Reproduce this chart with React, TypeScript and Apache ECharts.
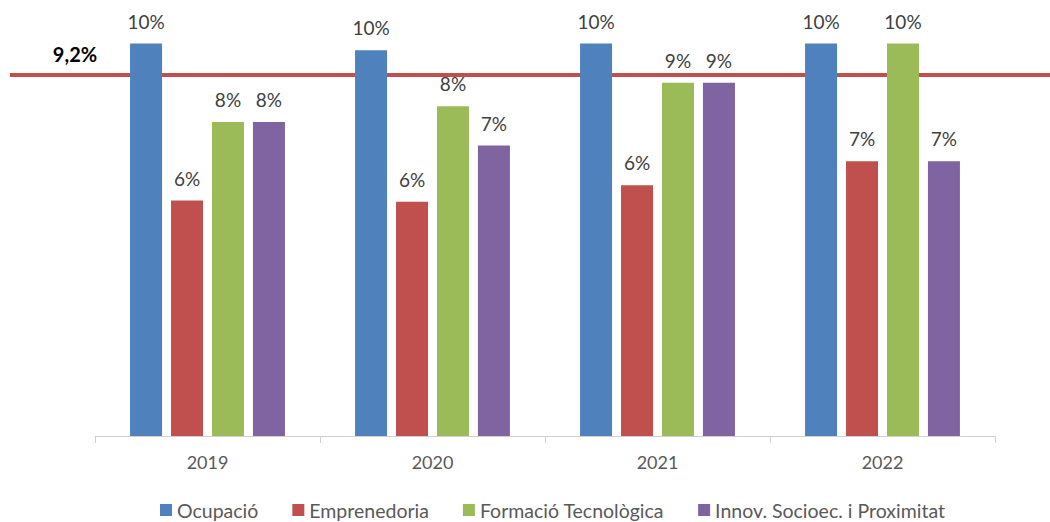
import React, { useEffect, useRef } from "react";
import * as echarts from "echarts";

const categories = ["2019", "2020", "2021", "2022"];
const seriesNames = ["Ocupació", "Emprenedoria", "Formació Tecnològica", "Innov. Socioec. i Proximitat"];
const ocupacio = [10.0, 9.83, 10.0, 10.0];
const emprenedoria = [6.0, 5.97, 6.39, 7.0];
const formacio = [8.0, 8.4, 9.0, 10.0];
const innovacio = [8.0, 7.4, 9.0, 7.0];
const threshold = 9.2;

const colors = ["#4F81BD", "#C0504D", "#9BBB59", "#8064A2"];

export default function App() {
  const ref = useRef<HTMLDivElement>(null);
  useEffect(() => {
    document.body.style.margin = "0";
    if (!ref.current) return;
    const chart = echarts.init(ref.current, null, { renderer: "svg" });
    const values = [ocupacio, emprenedoria, formacio, innovacio];
    const font = "Lato, 'Noto Sans', sans-serif";
    const barSeries = values.map((d, i) => ({
      name: seriesNames[i],
      type: "bar",
      xAxisIndex: 0,
      yAxisIndex: 0,
      data: d,
      barWidth: 32,
      barGap: "28%",
      z: 3,
      itemStyle: { color: colors[i] },
      label: {
        show: true,
        position: "top",
        distance: 13,
        color: "#404040",
        fontSize: 19,
        fontFamily: font,
        formatter: (p: any) => Math.round(p.value) + "%",
      },
    }));
    chart.setOption({
      animation: false,
      color: colors,
      grid: [
        { left: 95, right: 55, top: 43.5, bottom: 86 },
        { left: 10, right: 0, top: 43.5, bottom: 86 },
      ],
      xAxis: [
        {
          type: "category",
          gridIndex: 0,
          data: categories,
          axisLine: { lineStyle: { color: "#D0D0D0", width: 1 } },
          axisTick: { show: true, length: 7, lineStyle: { color: "#D0D0D0" } },
          axisLabel: { color: "#595959", fontSize: 18, fontFamily: font, margin: 17 },
        },
        { type: "value", gridIndex: 1, min: 0, max: 1, show: false },
      ],
      yAxis: [
        { type: "value", gridIndex: 0, min: 0, max: 10, show: false, splitLine: { show: false } },
        { type: "value", gridIndex: 1, min: 0, max: 10, show: false, splitLine: { show: false } },
      ],
      legend: {
        data: seriesNames,
        left: 155,
        top: 494,
        itemWidth: 12,
        itemHeight: 12,
        itemGap: 34,
        icon: "rect",
        textStyle: { color: "#595959", fontSize: 19.5, fontFamily: font, lineHeight: 22 },
      },
      series: [
        ...barSeries,
        {
          type: "line",
          xAxisIndex: 1,
          yAxisIndex: 1,
          z: 1,
          symbol: "circle",
          symbolSize: 0,
          lineStyle: { color: "#C0504D", width: 4 },
          silent: true,
          data: [
            {
              value: [0, threshold],
              label: {
                show: true,
                position: "top",
                distance: 11,
                offset: [65, 0],
                color: "#000000",
                fontWeight: "bold",
                fontSize: 20,
                fontFamily: font,
                formatter: () => threshold.toFixed(1).replace(".", ",") + "%",
              },
            },
            { value: [1, threshold] },
          ],
        },
      ],
    });
    return () => chart.dispose();
  }, []);
  return <div ref={ref} style={{ width: 1050, height: 522 }} />;
}
